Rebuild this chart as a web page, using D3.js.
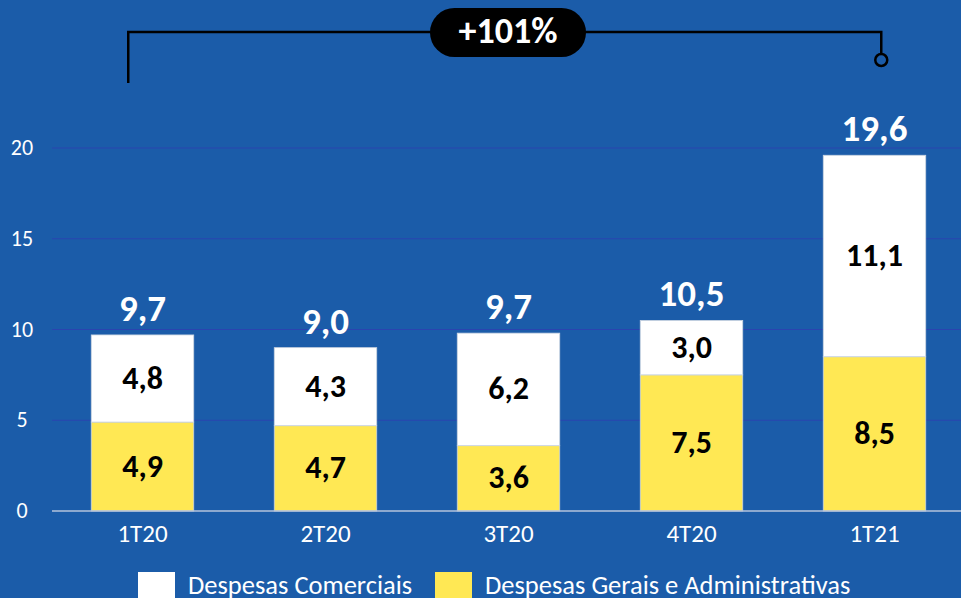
<!DOCTYPE html>
<html lang="pt">
<head>
<meta charset="UTF-8">
<title>Despesas</title>
<script src="https://d3js.org/d3.v7.js"></script>
<style>
    body { margin: 0; background: #1b5ca9; }
    svg { display: block; }
    text { font-family: Carlito, Calibri, "Open Sans", sans-serif; }
</style>
</head>
<body>
<svg id="chart" width="961" height="598"></svg>
<script>

// data
var quarters = ["1T20", "2T20", "3T20", "4T20", "1T21"];
var gerais = [4.9, 4.7, 3.6, 7.5, 8.5];
var comerciais = [4.8, 4.3, 6.2, 3.0, 11.1];
var totals = ["9,7", "9,0", "9,7", "10,5", "19,6"];
var yTicks = [0, 5, 10, 15, 20];
var growthLabel = "+101%";

var svg = d3.select("#chart"),
  width = +svg.attr("width"),
  height = +svg.attr("height");

var x = d3.scaleBand()
  .domain(quarters)
  .range([51, 966])
  .paddingInner(0.44)
  .paddingOuter(0.22);

var y = d3.scaleLinear()
  .domain([0, 20])
  .range([511, 148]);

var fmt = function (v) { return d3.format(".1f")(v).replace(".", ","); };

// gridlines
svg.append("g")
  .selectAll("line")
  .data(yTicks.filter(function (d) { return d > 0; }))
  .enter()
  .append("line")
    .attr("x1", 52).attr("x2", width)
    .attr("y1", function (d) { return y(d); })
    .attr("y2", function (d) { return y(d); })
    .attr("stroke", "#2a44b0")
    .attr("stroke-width", 1.2);

// y labels
svg.append("g")
  .selectAll("text")
  .data(yTicks)
  .enter()
  .append("text")
    .attr("x", 22)
    .attr("y", function (d) { return y(d) + 7; })
    .attr("text-anchor", "middle")
    .attr("fill", "white")
    .attr("font-size", 22)
    .text(function (d) { return d; });

// bars
var rows = quarters.map(function (q, i) {
  return { q: q, g: gerais[i], c: comerciais[i], t: totals[i] };
});

var bars = svg.append("g")
  .selectAll("g")
  .data(rows)
  .enter()
  .append("g");

bars.append("rect")
  .attr("x", function (d) { return x(d.q); })
  .attr("width", x.bandwidth())
  .attr("y", function (d) { return y(d.g); })
  .attr("height", function (d) { return y(0) - y(d.g); })
  .attr("fill", "#ffe854")
  .attr("stroke", "#c9d3e0")
  .attr("stroke-width", 0.8);

bars.append("rect")
  .attr("x", function (d) { return x(d.q); })
  .attr("width", x.bandwidth())
  .attr("y", function (d) { return y(d.g + d.c); })
  .attr("height", function (d) { return y(d.g) - y(d.g + d.c); })
  .attr("fill", "white")
  .attr("stroke", "#c9d3e0")
  .attr("stroke-width", 0.8);

// segment labels
bars.append("text")
  .attr("x", function (d) { return x(d.q) + x.bandwidth() / 2; })
  .attr("y", function (d) { return y(d.g / 2) + 10; })
  .attr("text-anchor", "middle")
  .attr("font-size", 32)
  .attr("font-weight", "bold")
  .attr("fill", "black")
  .text(function (d) { return fmt(d.g); });

bars.append("text")
  .attr("x", function (d) { return x(d.q) + x.bandwidth() / 2; })
  .attr("y", function (d) { return y(d.g + d.c / 2) + 10; })
  .attr("text-anchor", "middle")
  .attr("font-size", 32)
  .attr("font-weight", "bold")
  .attr("fill", "black")
  .text(function (d) { return fmt(d.c); });

// totals
bars.append("text")
  .attr("x", function (d) { return x(d.q) + x.bandwidth() / 2; })
  .attr("y", function (d) { return y(d.g + d.c) - 14; })
  .attr("text-anchor", "middle")
  .attr("font-size", 37)
  .attr("font-weight", "bold")
  .attr("fill", "white")
  .text(function (d) { return d.t; });

// axis line
svg.append("line")
  .attr("x1", 52).attr("x2", width)
  .attr("y1", y(0)).attr("y2", y(0))
  .attr("stroke", "#b4c3dc")
  .attr("stroke-width", 1.5);

// x labels
svg.append("g")
  .selectAll("text")
  .data(quarters)
  .enter()
  .append("text")
    .attr("x", function (d) { return x(d) + x.bandwidth() / 2; })
    .attr("y", 542)
    .attr("text-anchor", "middle")
    .attr("fill", "white")
    .attr("font-size", 25)
    .text(function (d) { return d; });

// bracket with growth label
var xa = x(quarters[0]) + 37, xb = x(quarters[4]) + 58, by = 32;
svg.append("path")
  .attr("d", "M" + xa + ",83V" + by + "H" + xb + "V54")
  .attr("fill", "none")
  .attr("stroke", "black")
  .attr("stroke-width", 2.5);
svg.append("circle")
  .attr("cx", xb).attr("cy", 60).attr("r", 6)
  .attr("fill", "none")
  .attr("stroke", "black")
  .attr("stroke-width", 2.5);
svg.append("rect")
  .attr("x", 430).attr("y", 8)
  .attr("width", 156).attr("height", 49)
  .attr("rx", 24.5)
  .attr("fill", "black");
svg.append("text")
  .attr("x", 508).attr("y", 43)
  .attr("text-anchor", "middle")
  .attr("fill", "white")
  .attr("font-size", 36)
  .attr("font-weight", "bold")
  .text(growthLabel);

// legend
var legend = [
  { label: "Despesas Comerciais", color: "white", x: 138 },
  { label: "Despesas Gerais e Administrativas", color: "#ffe854", x: 435 }
];
var lg = svg.append("g")
  .selectAll("g")
  .data(legend)
  .enter()
  .append("g");
lg.append("rect")
  .attr("x", function (d) { return d.x; })
  .attr("y", 572)
  .attr("width", 37).attr("height", 30)
  .attr("fill", function (d) { return d.color; });
lg.append("text")
  .attr("x", function (d) { return d.x + 50; })
  .attr("y", 594)
  .attr("fill", "white")
  .attr("font-size", 26.5)
  .text(function (d) { return d.label; });

</script>
</body>
</html>
